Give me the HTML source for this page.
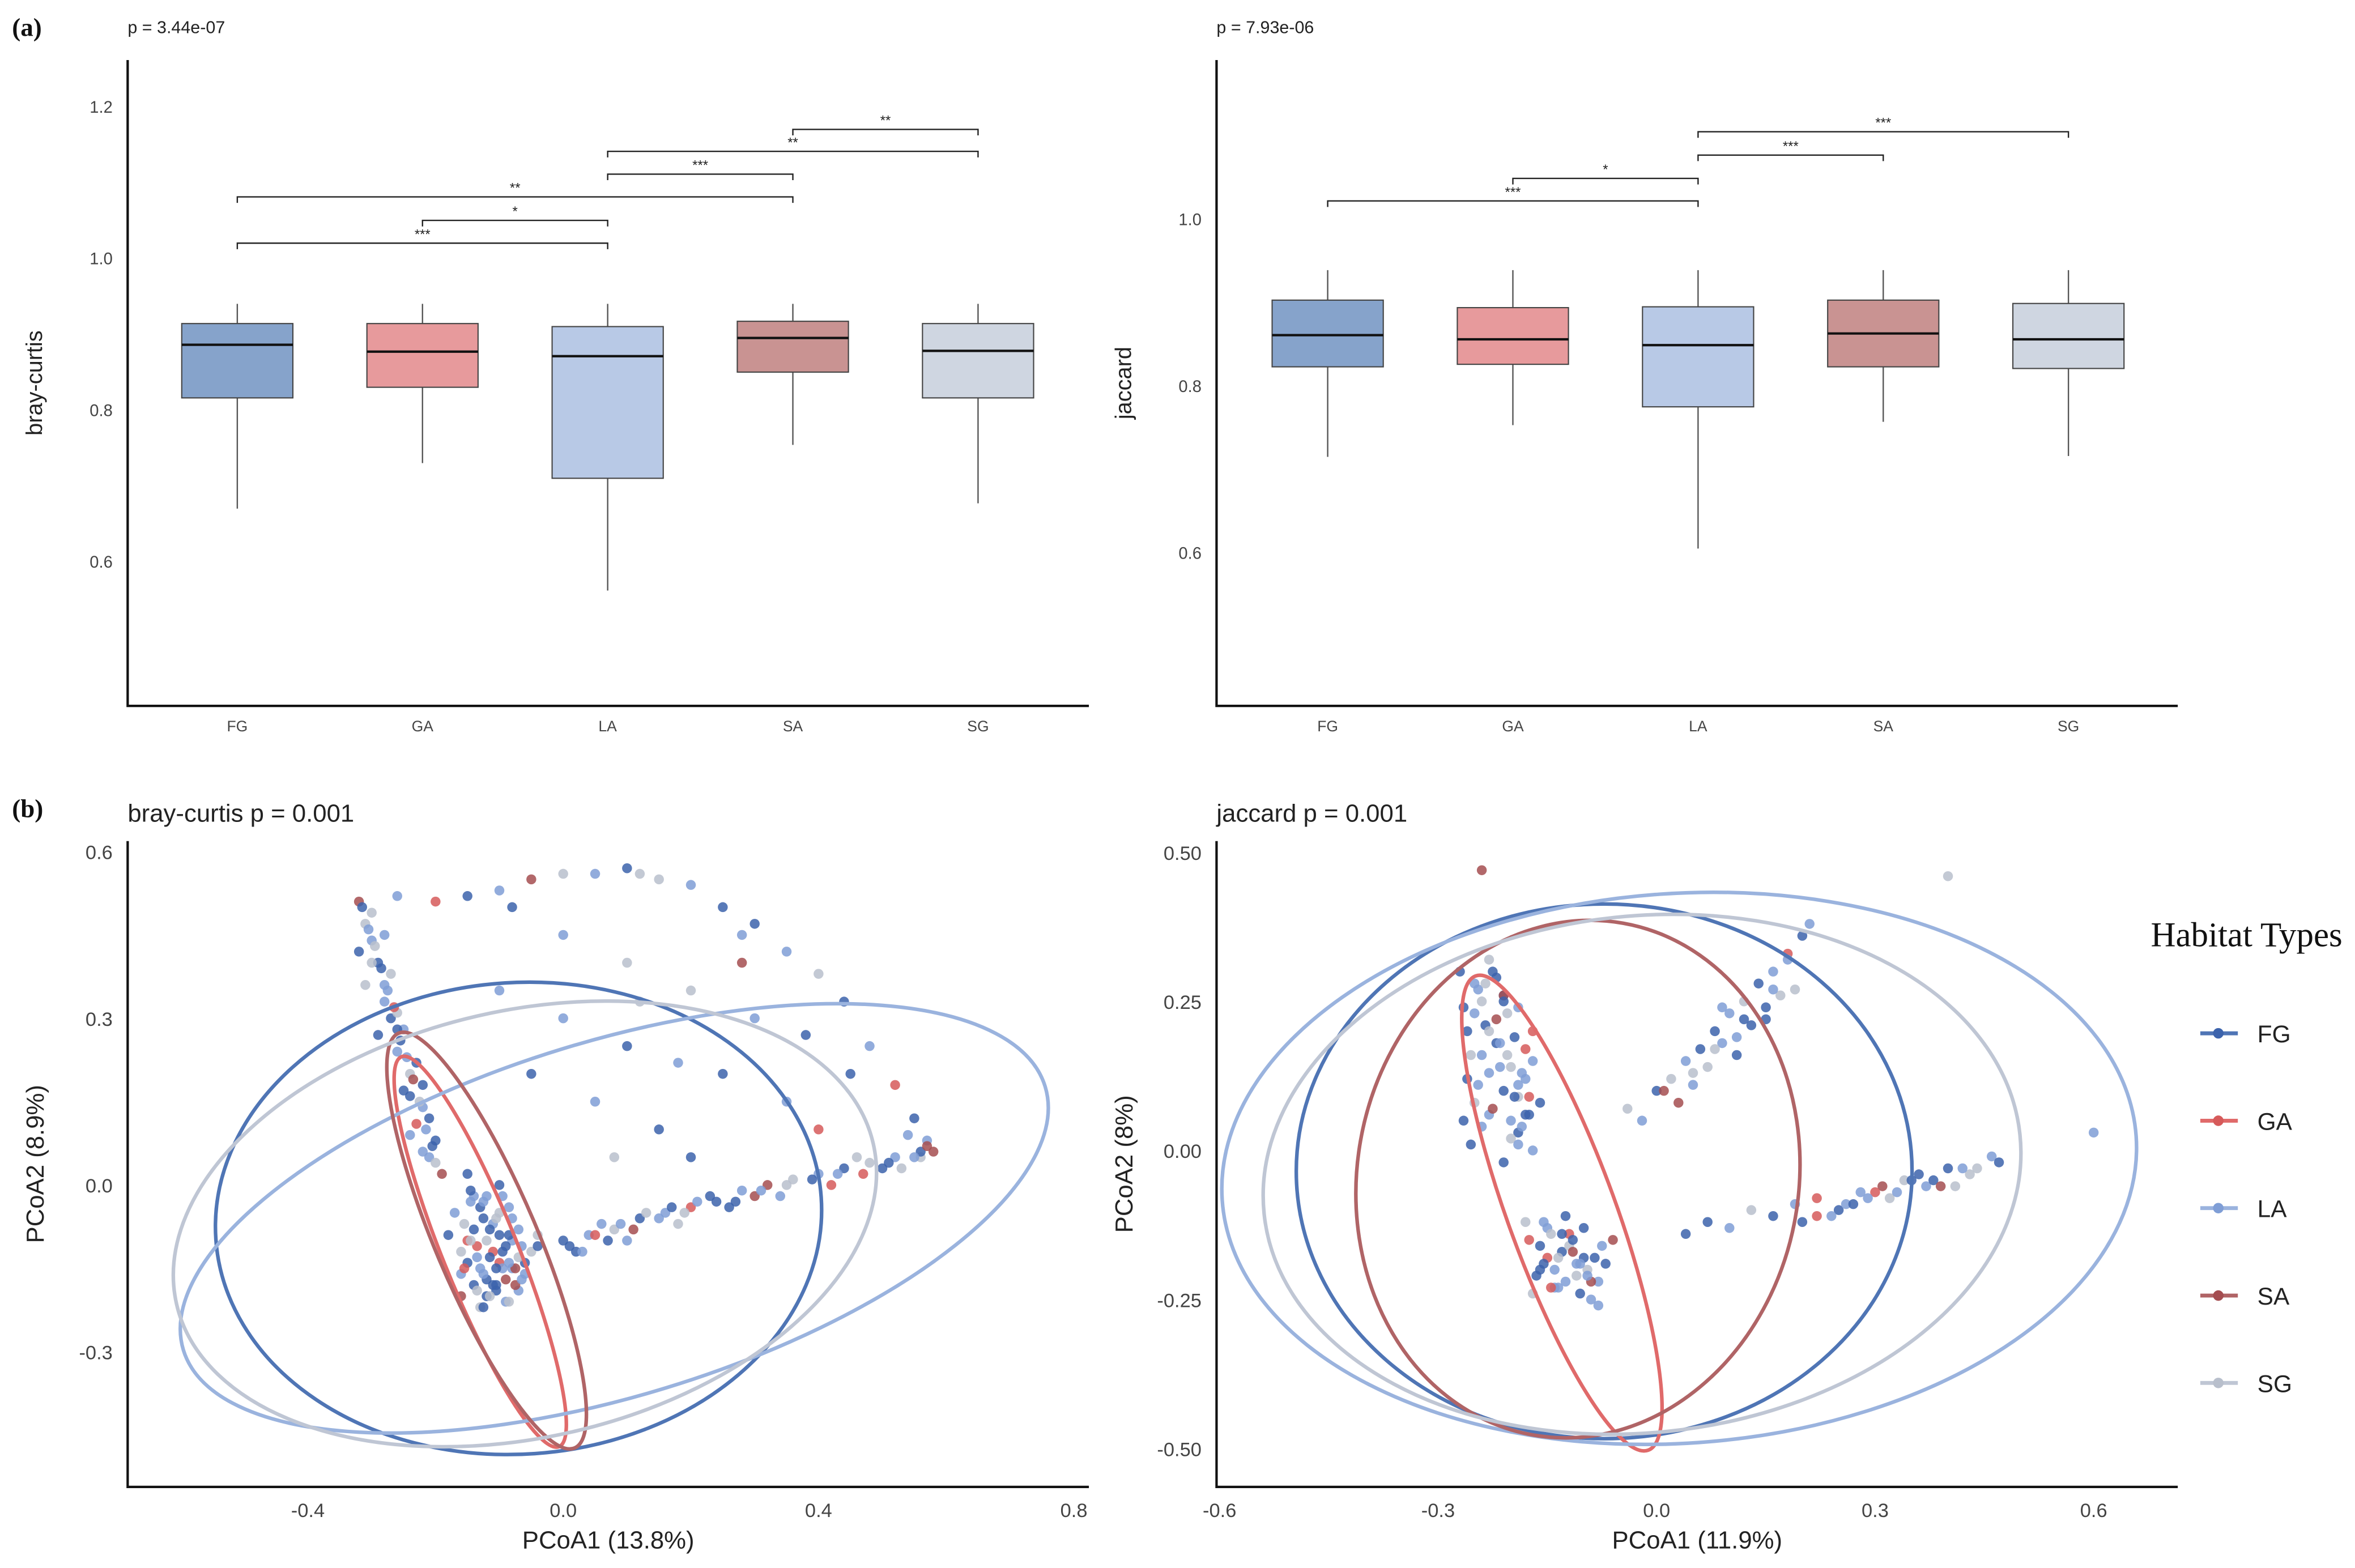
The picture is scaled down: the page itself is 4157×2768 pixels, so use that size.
<!DOCTYPE html>
<html><head><meta charset="utf-8"><style>
html,body{margin:0;padding:0;background:#fff;}
svg{display:block;font-family:"Liberation Sans",Arial,sans-serif;}
</style></head><body>
<svg id="fig" xmlns="http://www.w3.org/2000/svg" width="4157" height="2768" viewBox="0 0 1568 1044" preserveAspectRatio="none">
<rect width="1568" height="1044" fill="#fff"/>
<g id="root"></g>
</svg>
<script>
// ---------- Panel (a) data ----------
const boxCats = ["FG","GA","LA","SA","SG"];
const boxFill = ["#86a3cb","#e79a9c","#b8c9e6","#c99392","#cfd6e1"];
const bcLow = [0.67,0.73,0.562,0.754,0.677];
const bcQ1  = [0.816,0.83,0.71,0.85,0.816];
const bcMed = [0.886,0.877,0.871,0.895,0.878];
const bcQ3  = [0.914,0.914,0.91,0.917,0.914];
const bcHigh= [0.94,0.94,0.94,0.94,0.94];
const bcBrFrom=[3,2,2,0,1,0];
const bcBrTo  =[4,4,3,3,2,2];
const bcBrY   =[1.170,1.141,1.111,1.081,1.050,1.020];
const bcBrLab =["**","**","***","**","*","***"];
const bcTicks = [0.6,0.8,1.0,1.2];

const jcLow = [0.715,0.753,0.605,0.757,0.716];
const jcQ1  = [0.823,0.826,0.775,0.823,0.821];
const jcMed = [0.861,0.856,0.849,0.863,0.856];
const jcQ3  = [0.903,0.894,0.895,0.903,0.899];
const jcHigh= [0.939,0.939,0.939,0.939,0.939];
const jcBrFrom=[2,2,1,0];
const jcBrTo  =[4,3,2,2];
const jcBrY   =[1.105,1.077,1.049,1.022];
const jcBrLab =["***","***","*","***"];
const jcTicks = [0.6,0.8,1.0];

// ---------- Panel (b) data ----------
const groups = ["FG","GA","LA","SA","SG"];
const ptColor = ["#3c63ac","#d65a5a","#7f9ed6","#a44d50","#b8bfcc"];
const ellColor = ["#4f75b5","#e06a6a","#9ab3de","#b06466","#bfc6d4"];
// group pattern for points (mostly blue tones, as in the figure)
const groupSeq = [0,2,4,0,2,1,0,2,3,4,2,0,4,2,0];
const bcX = [-0.15,-0.12,-0.10,-0.14,-0.08,-0.11,-0.06,-0.13,-0.09,-0.16,-0.07,-0.12,-0.05,-0.17,-0.10,-0.14,-0.08,-0.12,-0.15,-0.06,-0.10,-0.13,-0.09,-0.16,-0.04,-0.11,-0.18,-0.07,-0.14,-0.12,-0.09,-0.16,-0.13,-0.10,-0.07,-0.15,-0.11,-0.08,
 -0.32,-0.31,-0.30,-0.29,-0.31,-0.28,-0.27,-0.29,-0.26,-0.24,-0.25,-0.22,-0.23,-0.20,-0.21,-0.19,-0.30,-0.28,-0.32,-0.27,-0.25,-0.23,-0.22,-0.24,-0.26,-0.21,
 -0.26,-0.20,-0.15,-0.10,-0.05,0.00,0.05,0.10,0.15,0.20,0.25,0.30,0.35,0.40,0.44,0.48,0.52,0.55,0.57,0.58,0.56,0.54,-0.08,0.12,0.28,
 -0.04,0.00,0.04,0.08,0.12,0.16,0.20,0.24,0.28,0.32,0.36,0.40,0.44,0.48,0.52,0.56,0.02,0.10,0.18,0.26,0.34,0.42,0.50,0.06,0.30,0.46,
 0.00,0.10,0.20,0.05,0.15,0.25,0.30,0.10,-0.05,0.35,0.40,0.20,0.00,0.28,0.12,-0.10,0.45,0.08,0.18,0.38,
 -0.145,-0.125,-0.105,-0.085,-0.065,-0.135,-0.115,-0.095,-0.075,-0.155,-0.125,-0.105,-0.085,-0.145,-0.115,-0.095,-0.065,-0.135,-0.105,-0.085,-0.155,-0.125,-0.095,-0.075,-0.115,-0.135,-0.105,-0.145,-0.085,-0.125,
 -0.315,-0.305,-0.295,-0.285,-0.275,-0.265,-0.255,-0.245,-0.235,-0.225,-0.215,-0.205,-0.30,-0.28,-0.26,-0.24,-0.22,-0.20,
 0.01,0.03,0.05,0.07,0.09,0.11,0.13,0.15,0.17,0.19,0.21,0.23,0.27,0.31,0.35,0.39,0.43,0.47,0.51,0.55,0.57,0.53];
const bcY = [0.02,-0.02,-0.05,-0.08,-0.10,-0.12,-0.14,-0.15,-0.17,-0.12,-0.19,-0.20,-0.12,-0.05,-0.09,-0.18,-0.06,-0.10,-0.14,-0.16,-0.14,-0.04,-0.21,-0.20,-0.09,-0.07,-0.09,-0.13,-0.02,-0.17,-0.11,-0.16,-0.22,0.00,-0.08,-0.10,-0.18,-0.15,
 0.51,0.47,0.44,0.40,0.36,0.33,0.30,0.27,0.24,0.20,0.17,0.14,0.11,0.08,0.05,0.02,0.49,0.45,0.42,0.38,0.28,0.22,0.18,0.09,0.31,0.12,
 0.52,0.51,0.52,0.53,0.55,0.56,0.56,0.57,0.55,0.54,0.50,0.47,0.42,0.38,0.33,0.25,0.18,0.12,0.08,0.06,0.05,0.09,0.50,0.56,0.45,
 -0.11,-0.10,-0.09,-0.08,-0.06,-0.05,-0.04,-0.03,-0.01,0.00,0.01,0.02,0.03,0.04,0.05,0.06,-0.12,-0.10,-0.07,-0.04,-0.02,0.00,0.03,-0.07,-0.02,0.05,
 0.30,0.25,0.35,0.15,0.10,0.20,0.30,0.40,0.20,0.15,0.10,0.05,0.45,0.40,0.33,0.35,0.20,0.05,0.22,0.27,
 -0.01,-0.03,-0.06,-0.09,-0.11,-0.11,-0.13,-0.15,-0.18,-0.07,-0.16,-0.19,-0.21,-0.03,-0.08,-0.12,-0.17,-0.19,-0.15,-0.04,-0.15,-0.06,-0.02,-0.15,-0.20,-0.13,-0.18,-0.10,-0.14,-0.22,
 0.50,0.46,0.43,0.39,0.35,0.32,0.26,0.23,0.19,0.15,0.10,0.07,0.40,0.36,0.28,0.16,0.06,0.04,
 -0.11,-0.12,-0.09,-0.10,-0.07,-0.08,-0.05,-0.06,-0.04,-0.05,-0.03,-0.02,-0.03,-0.01,0.00,0.01,0.02,0.02,0.04,0.05,0.07,0.03];
const jcX = [-0.27,-0.25,-0.23,-0.21,-0.19,-0.17,-0.26,-0.24,-0.22,-0.20,-0.18,-0.16,-0.25,-0.23,-0.21,-0.19,-0.17,-0.24,-0.22,-0.20,-0.18,-0.26,-0.23,-0.21,-0.19,-0.17,-0.22,-0.20,-0.24,-0.18,-0.21,-0.19,
 -0.18,-0.16,-0.14,-0.12,-0.10,-0.08,-0.06,-0.17,-0.15,-0.13,-0.11,-0.09,-0.07,-0.16,-0.14,-0.12,-0.10,-0.08,-0.15,-0.13,-0.11,-0.09,
 -0.04,-0.02,0.00,0.02,0.04,0.06,0.08,0.10,0.12,0.14,0.16,0.18,0.20,0.21,0.03,0.07,0.11,0.15,0.19,0.09,
 0.04,0.07,0.10,0.13,0.16,0.19,0.22,0.25,0.28,0.31,0.34,0.37,0.40,0.43,0.46,0.47,0.20,0.26,0.32,0.38,0.24,0.30,0.36,0.42,
 -0.24,0.40,0.60,
 -0.265,-0.255,-0.245,-0.235,-0.225,-0.215,-0.205,-0.195,-0.185,-0.175,-0.265,-0.245,-0.225,-0.205,-0.185,-0.255,-0.235,-0.215,-0.195,-0.175,-0.25,-0.23,-0.21,-0.19,
 -0.175,-0.155,-0.135,-0.115,-0.095,-0.075,-0.165,-0.145,-0.125,-0.105,-0.085,-0.155,-0.135,-0.115,-0.095,-0.145,-0.125,-0.105,
 0.01,0.05,0.09,0.13,0.17,0.05,0.11,0.15,0.18,0.08,0.12,0.16,0.22,0.27,0.33,0.39,0.44,0.29,0.35,0.41];
const jcY = [0.30,0.28,0.32,0.26,0.24,0.20,0.20,0.16,0.22,0.14,0.12,0.08,0.08,0.06,0.10,0.03,0.00,0.25,0.18,0.05,0.17,0.12,0.13,0.26,0.09,0.15,0.29,0.02,0.04,0.06,-0.02,0.11,
 -0.12,-0.16,-0.20,-0.14,-0.18,-0.22,-0.15,-0.24,-0.13,-0.17,-0.21,-0.25,-0.19,-0.20,-0.23,-0.16,-0.13,-0.26,-0.18,-0.14,-0.19,-0.22,
 0.07,0.05,0.10,0.12,0.15,0.17,0.20,0.23,0.25,0.28,0.30,0.33,0.36,0.38,0.08,0.14,0.19,0.22,0.27,0.24,
 -0.14,-0.12,-0.13,-0.10,-0.11,-0.09,-0.08,-0.10,-0.07,-0.06,-0.05,-0.06,-0.03,-0.04,-0.01,-0.02,-0.12,-0.09,-0.08,-0.05,-0.11,-0.07,-0.04,-0.03,
 0.47,0.46,0.03,
 0.24,0.16,0.27,0.21,0.30,0.18,0.23,0.19,0.13,0.09,0.05,0.11,0.07,0.16,0.04,0.01,0.28,0.14,0.09,0.06,0.23,0.20,0.25,0.01,
 -0.15,-0.19,-0.23,-0.17,-0.20,-0.16,-0.21,-0.14,-0.22,-0.24,-0.18,-0.12,-0.18,-0.15,-0.21,-0.23,-0.11,-0.19,
 0.10,0.13,0.18,0.21,0.26,0.11,0.16,0.24,0.32,0.17,0.22,0.27,-0.11,-0.09,-0.07,-0.06,-0.03,-0.08,-0.05,-0.06];
// ellipses: center x, center y (data), semi axes px, rotation deg
const bcEll = [[-0.07,-0.06,202,157,-4],[-0.13,-0.12,140,25,68],[0.08,-0.06,300,118,-17],[-0.12,-0.10,150,34,67],[-0.06,-0.07,238,142,-13]];
const jcEll = [[-0.072,-0.035,205,178,0],[-0.13,-0.105,168,36,70],[0.031,-0.03,305,183,-4],[-0.108,-0.048,147,173,10],[-0.02,-0.04,253,172,-6]];

const NS="http://www.w3.org/2000/svg";
const root=document.getElementById('root');
function mk(tag,attrs,parent,txt){const e=document.createElementNS(NS,tag);for(const k in attrs)e.setAttribute(k,attrs[k]);if(txt!==undefined)e.textContent=txt;(parent||root).appendChild(e);return e;}

function text(x,y,s,size,opts,name){
  const t=mk('text',Object.assign({x:x,y:y,'font-size':size,fill:'#222'},opts||{}),root,s);
  
  
  return t;
}

// ---------- box panel ----------
function boxPanel(ax, ticks, low,q1,med,q3,high, bf,bt,by,bl, pLabel, yLabel, prefix){
  const yv=v=>ax.y0-(v-ax.v0)*ax.k;
  const xc=i=>ax.x0+ax.step*i;
  const g=mk('g',{});
  
  
  const al=mk('path',{d:`M${ax.left},${ax.top}V${ax.bottom}H${ax.right}`,stroke:'#111','stroke-width':1.6,fill:'none'},g);
  
  
  ticks.forEach(v=>{
    text(ax.left-10,yv(v)+4,v.toFixed(1),11,{'text-anchor':'end',fill:'#444'},prefix+'-y-tick');
  });
  boxCats.forEach((c,i)=>{
    const x=xc(i),w=37;
    const wl=mk('line',{x1:x,x2:x,y1:yv(high[i]),y2:yv(low[i]),stroke:'#555','stroke-width':0.9},g);
    
    
    const r=mk('rect',{x:x-w,y:yv(q3[i]),width:2*w,height:yv(q1[i])-yv(q3[i]),fill:boxFill[i],stroke:'#444','stroke-width':0.8},g);
    
    
    const m=mk('line',{x1:x-w,x2:x+w,y1:yv(med[i]),y2:yv(med[i]),stroke:'#111','stroke-width':1.6},g);
    
    
    text(x,ax.bottom+17,c,10,{'text-anchor':'middle',fill:'#444'},prefix+'-x-tick');
  });
  bf.forEach((f,j)=>{
    const y=yv(by[j]),x1=xc(f),x2=xc(bt[j]);
    const b=mk('path',{d:`M${x1},${y+4}V${y}H${x2}V${y+4}`,stroke:'#222','stroke-width':0.9,fill:'none'},g);
    
    
    text((x1+x2)/2,y-3,bl[j],9,{'text-anchor':'middle'},prefix+'-sig-label');
  });
  text(ax.left,22,pLabel,11.5,{},prefix+'-p-value');
  text(0,0,yLabel,15,{'text-anchor':'middle',transform:`translate(${ax.left-57},${(ax.top+ax.bottom)/2}) rotate(-90)`},prefix+'-y-axis-title');
}
boxPanel({left:85,right:725,top:40,bottom:470,x0:158,step:123.3,y0:172,v0:1.0,k:505},bcTicks,bcLow,bcQ1,bcMed,bcQ3,bcHigh,bcBrFrom,bcBrTo,bcBrY,bcBrLab,"p = 3.44e-07","bray-curtis","bray-curtis");
boxPanel({left:810,right:1450,top:40,bottom:470,x0:884,step:123.3,y0:146,v0:1.0,k:555},jcTicks,jcLow,jcQ1,jcMed,jcQ3,jcHigh,jcBrFrom,jcBrTo,jcBrY,jcBrLab,"p = 7.93e-06","jaccard","jaccard");

// ---------- PCoA panels ----------
function pcoa(ax, xt, yt, xs, ys, ells, title, xl, yl, prefix, ydec){
  const X=v=>ax.xc+v*ax.kx, Y=v=>ax.yc-v*ax.ky;
  const g=mk('g',{});
  
  
  const al=mk('path',{d:`M${ax.left},${ax.top}V${ax.bottom}H${ax.right}`,stroke:'#111','stroke-width':1.6,fill:'none'},g);
  
  
  xt.forEach(v=>text(X(v),ax.bottom+20,v.toFixed(1),13,{'text-anchor':'middle',fill:'#444'},prefix+'-x-tick'));
  yt.forEach(v=>text(ax.left-10,Y(v)+5,v.toFixed(ydec),13,{'text-anchor':'end',fill:'#444'},prefix+'-y-tick'));
  xs.forEach((x,i)=>{
    const gi=groupSeq[i%groupSeq.length];
    const c=mk('circle',{cx:X(x),cy:Y(ys[i]),r:3.3,fill:ptColor[gi],'fill-opacity':0.85},g);
    
    
  });
  ells.forEach((e,i)=>{
    const el=mk('ellipse',{cx:X(e[0]),cy:Y(e[1]),rx:e[2],ry:e[3],transform:`rotate(${e[4]} ${X(e[0])} ${Y(e[1])})`,fill:'none',stroke:ellColor[i],'stroke-width':2.4},g);
    
    
  });
  text(ax.left,547,title,16.5,{},prefix+'-title');
  text((ax.left+ax.right)/2,1031,xl,16.5,{'text-anchor':'middle'},prefix+'-x-axis-title');
  text(0,0,yl,16.5,{'text-anchor':'middle',transform:`translate(${ax.left-56},${(ax.top+ax.bottom)/2}) rotate(-90)`},prefix+'-y-axis-title');
}
pcoa({left:85,right:725,top:560,bottom:990,xc:375,kx:425,yc:789,ky:370},[-0.4,0.0,0.4,0.8],[-0.3,0.0,0.3,0.6],bcX,bcY,bcEll,"bray-curtis p = 0.001","PCoA1 (13.8%)","PCoA2 (8.9%)","bray-curtis",1);
pcoa({left:810,right:1450,top:560,bottom:990,xc:1103,kx:485,yc:766,ky:397},[-0.6,-0.3,0.0,0.3,0.6],[-0.5,-0.25,0.0,0.25,0.5],jcX,jcY,jcEll,"jaccard p = 0.001","PCoA1 (11.9%)","PCoA2 (8%)","jaccard",2);

// panel letters
text(8,24,"(a)",17,{'font-family':'"Liberation Serif",serif','font-weight':'bold',fill:'#111'},'panel-label-a');
text(8,544,"(b)",17,{'font-family':'"Liberation Serif",serif','font-weight':'bold',fill:'#111'},'panel-label-b');

// legend
const lg=mk('g',{});


text(1432,630,"Habitat Types",23,{'font-family':'"Liberation Serif",serif',fill:'#111'},'legend-title');
groups.forEach((gname,i)=>{
  const y=688+i*58.2;
  const l=mk('line',{x1:1465,x2:1490,y1:y,y2:y,stroke:ellColor[i],'stroke-width':2.6},lg);
  
  
  const c=mk('circle',{cx:1477,cy:y,r:3.5,fill:ptColor[i]},lg);
  
  
  text(1503,y+6,gname,16,{},'legend-label-'+gname.toLowerCase());
});
</script>
</body></html>
